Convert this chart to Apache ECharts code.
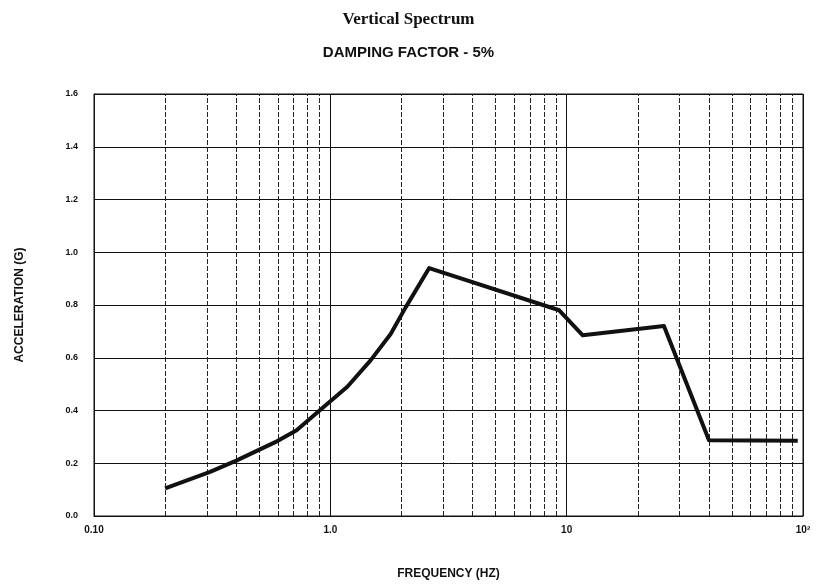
<!DOCTYPE html>
<html>
<head>
<meta charset="utf-8">
<style>
  html, body { margin: 0; padding: 0; background: #fff; }
  #chart { width: 817px; height: 586px; }
</style>
<script src="https://cdn.jsdelivr.net/npm/echarts@6/dist/echarts.min.js"></script>
</head>
<body>
<div id="chart"></div>
<script>
// spectrum points (frequency Hz, acceleration G)
var freqs = [0.2, 0.31, 0.4, 0.6, 0.72, 0.9, 1.18, 1.48, 1.8, 2.08, 2.62, 9.3, 11.7, 25.8, 40, 95];
var accel = [0.105, 0.167, 0.21, 0.285, 0.325, 0.40, 0.49, 0.59, 0.69, 0.79, 0.94, 0.78, 0.685, 0.72, 0.287, 0.285];

// minor vertical grid lines (2..9 in each decade)
var minorFreqs = [0.2, 0.3, 0.4, 0.5, 0.6, 0.7, 0.8, 0.9,
                  2, 3, 4, 5, 6, 7, 8, 9,
                  20, 30, 40, 50, 60, 70, 80, 90];

var xTickValues = [0.1, 1, 10, 100];
var xTickLabels = ['0.10', '1.0', '10', '10²'];

(function () {
    var chart = echarts.init(document.getElementById('chart'));

    var points = freqs.map(function (f, i) { return [f, accel[i]]; });

    var option = {
        backgroundColor: '#fff',
        animation: false,

        title: [
            {
                text: 'Vertical Spectrum',
                left: 'center',
                top: 6,
                textStyle: {
                    fontFamily: 'Liberation Serif',
                    fontSize: 17,
                    fontWeight: 'bold',
                    color: '#111'
                }
            },
            {
                text: 'DAMPING FACTOR - 5%',
                left: 'center',
                top: 40,
                textStyle: {
                    fontFamily: 'Liberation Sans',
                    fontSize: 15,
                    fontWeight: 'bold',
                    color: '#111'
                }
            }
        ],

        grid: {
            left: 94,
            right: 14,
            top: 94,
            bottom: 70,
            show: true,
            borderColor: '#111',
            borderWidth: 1
        },

        xAxis: {
            type: 'log',
            logBase: 10,
            min: 0.1,
            max: 100,
            name: 'FREQUENCY (HZ)',
            nameLocation: 'middle',
            nameGap: 52,
            nameTextStyle: {
                fontFamily: 'Liberation Sans',
                fontSize: 12,
                fontWeight: 'bold',
                color: '#111'
            },
            axisLine: { lineStyle: { color: '#111', width: 1 } },
            axisTick: { show: false },
            axisLabel: {
                margin: 9,
                fontFamily: 'Liberation Sans',
                fontSize: 10,
                fontWeight: 'bold',
                color: '#111',
                formatter: function (v) {
                    for (var i = 0; i < xTickValues.length; i++) {
                        if (Math.abs(Math.log10(v) - Math.log10(xTickValues[i])) < 1e-6) {
                            return xTickLabels[i];
                        }
                    }
                    return '';
                }
            },
            splitLine: { show: true, lineStyle: { color: '#111', width: 1 } }
        },

        yAxis: {
            type: 'value',
            min: 0,
            max: 1.6,
            interval: 0.2,
            name: 'ACCELERATION (G)',
            nameLocation: 'middle',
            nameGap: 68,
            nameTextStyle: {
                fontFamily: 'Liberation Sans',
                fontSize: 12,
                fontWeight: 'bold',
                color: '#111'
            },
            axisLine: { show: true, lineStyle: { color: '#111', width: 1 } },
            axisTick: { show: false },
            axisLabel: {
                margin: 16,
                fontFamily: 'Liberation Sans',
                fontSize: 9,
                fontWeight: 'bold',
                color: '#111',
                formatter: function (v) { return v.toFixed(1); }
            },
            splitLine: { show: true, lineStyle: { color: '#111', width: 1 } }
        },

        series: [
            {
                name: 'Vertical',
                type: 'line',
                data: points,
                symbol: 'none',
                lineStyle: { color: '#111', width: 4, join: 'round' },
                z: 5,
                markLine: {
                    silent: true,
                    symbol: ['none', 'none'],
                    label: { show: false },
                    lineStyle: { color: '#222', width: 1, type: [5, 2] },
                    data: minorFreqs.map(function (f) { return { xAxis: f }; })
                }
            }
        ]
    };

    chart.setOption(option);
})();
</script>
</body>
</html>
